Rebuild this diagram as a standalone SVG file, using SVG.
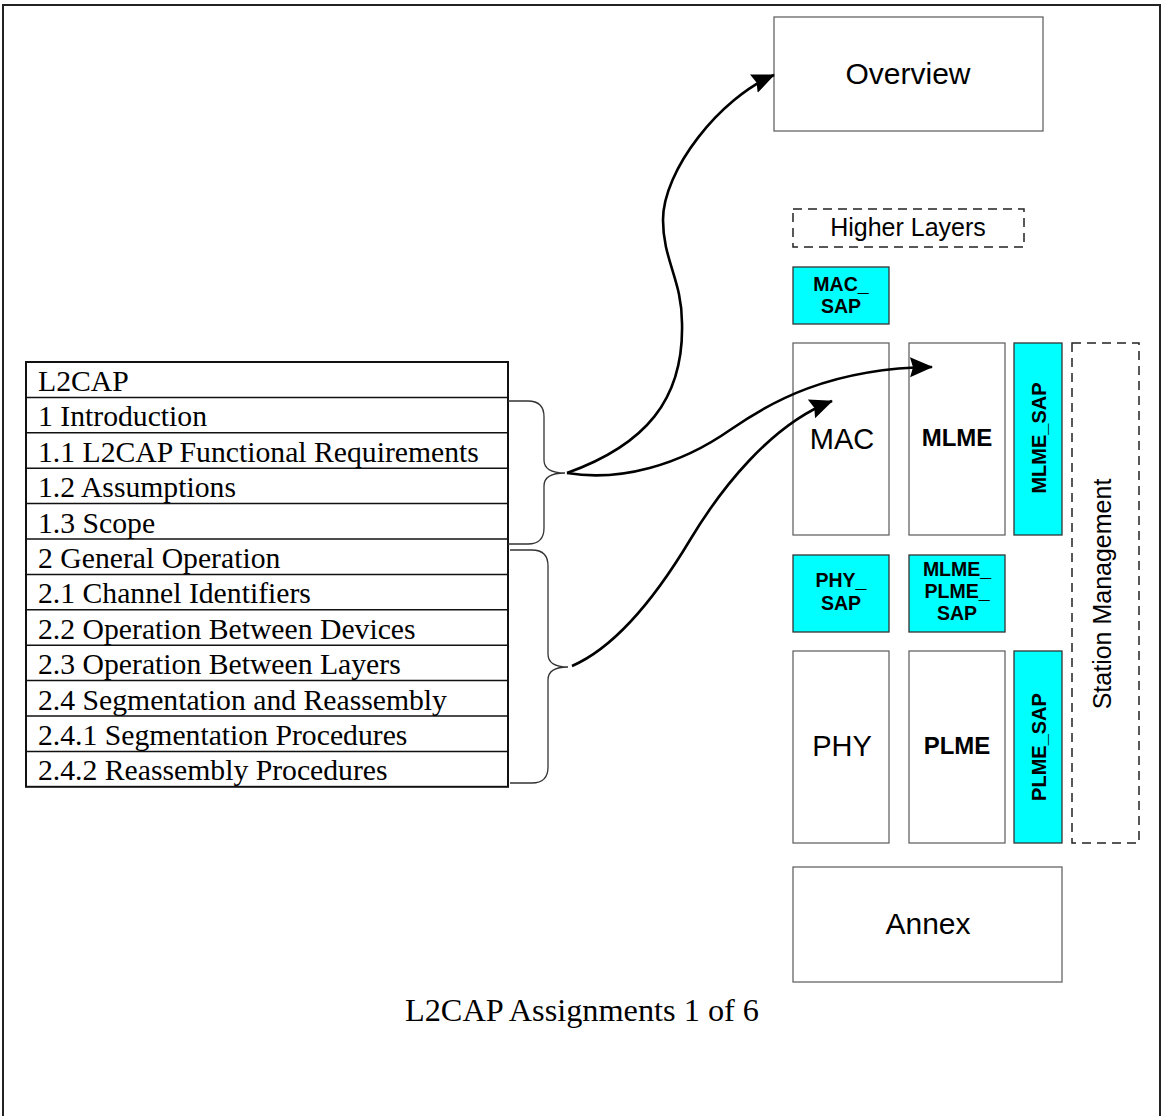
<svg xmlns="http://www.w3.org/2000/svg" width="1165" height="1116" viewBox="0 0 1165 1116">
<defs>
<style>
.box{fill:#fff;stroke:#666;stroke-width:1.3}
.sap{fill:#00ffff;stroke:#333;stroke-width:1.3}
.dash{fill:#fff;stroke:#222;stroke-width:1.5;stroke-dasharray:9,6}
.sans{font-family:"Liberation Sans",Arial,sans-serif;fill:#000}
.b{font-weight:bold}
.serif{font-family:"Liberation Serif","Times New Roman",serif;fill:#000}
.row{font-size:29.7px}
.tl{stroke:#111;stroke-width:1.5}
.conn{fill:none;stroke:#000;stroke-width:2.6}
.brace{fill:none;stroke:#333;stroke-width:1.3}
</style>
<marker id="ah" markerUnits="userSpaceOnUse" markerWidth="26" markerHeight="22" refX="22" refY="10" orient="auto">
<path d="M0,0 L23,10 L0,20 L3,10 z" fill="#000"/>
</marker>
</defs>
<rect width="1165" height="1116" fill="#fff"/>
<path d="M3,1120 L3,5 L1160,5 L1160,1120" fill="none" stroke="#222" stroke-width="2"/>

<g id="overview">
<rect class="box" x="774" y="17" width="269" height="114" stroke="#333"/>
<text class="sans" x="908" y="84" font-size="30" text-anchor="middle">Overview</text>
</g>
<g id="higher-layers">
<rect class="dash" x="793" y="209" width="231" height="38"/>
<text class="sans" x="908" y="236" font-size="25" text-anchor="middle">Higher Layers</text>
</g>
<g id="mac-sap">
<rect class="sap" x="793" y="267" width="96" height="57"/>
<text class="sans b" x="841" y="291" font-size="19.5" text-anchor="middle">MAC_</text>
<text class="sans b" x="841" y="313" font-size="19.5" text-anchor="middle">SAP</text>
</g>
<g id="mac">
<rect class="box" x="793" y="343" width="96" height="192"/>
<text class="sans" x="842" y="449" font-size="29" text-anchor="middle">MAC</text>
</g>
<g id="mlme">
<rect class="box" x="909" y="343" width="96" height="192"/>
<text class="sans b" x="957" y="446" font-size="24" text-anchor="middle">MLME</text>
</g>
<g id="mlme-sap">
<rect class="sap" x="1014" y="343" width="48" height="192"/>
<text class="sans b" transform="translate(1046,438) rotate(-90)" font-size="20" text-anchor="middle">MLME_SAP</text>
</g>
<g id="station-management">
<rect class="dash" x="1072" y="343" width="67" height="500"/>
<text class="sans" transform="translate(1111,594) rotate(-90)" font-size="25" text-anchor="middle">Station Management</text>
</g>
<g id="phy-sap">
<rect class="sap" x="793" y="555" width="96" height="77"/>
<text class="sans b" x="841" y="587" font-size="19.5" text-anchor="middle">PHY_</text>
<text class="sans b" x="841" y="610" font-size="19.5" text-anchor="middle">SAP</text>
</g>
<g id="mlme-plme-sap">
<rect class="sap" x="909" y="555" width="96" height="77"/>
<text class="sans b" x="957" y="576" font-size="19.5" text-anchor="middle">MLME_</text>
<text class="sans b" x="957" y="598" font-size="19.5" text-anchor="middle">PLME_</text>
<text class="sans b" x="957" y="620" font-size="19.5" text-anchor="middle">SAP</text>
</g>
<g id="phy">
<rect class="box" x="793" y="651" width="96" height="192"/>
<text class="sans" x="842" y="756" font-size="29" text-anchor="middle">PHY</text>
</g>
<g id="plme">
<rect class="box" x="909" y="651" width="96" height="192"/>
<text class="sans b" x="957" y="754" font-size="24" text-anchor="middle">PLME</text>
</g>
<g id="plme-sap">
<rect class="sap" x="1014" y="651" width="48" height="192"/>
<text class="sans b" transform="translate(1046,747) rotate(-90)" font-size="20" text-anchor="middle">PLME_SAP</text>
</g>
<g id="annex">
<rect class="box" x="793" y="867" width="269" height="115" stroke="#333"/>
<text class="sans" x="928" y="934" font-size="30" text-anchor="middle">Annex</text>
</g>

<g id="toc">
<rect x="26" y="362" width="482" height="424.8" fill="#fff" stroke="#111" stroke-width="2"/>
<line class="tl" x1="26" y1="397.4" x2="508" y2="397.4"/>
<line class="tl" x1="26" y1="432.8" x2="508" y2="432.8"/>
<line class="tl" x1="26" y1="468.2" x2="508" y2="468.2"/>
<line class="tl" x1="26" y1="503.6" x2="508" y2="503.6"/>
<line class="tl" x1="26" y1="539" x2="508" y2="539"/>
<line class="tl" x1="26" y1="574.4" x2="508" y2="574.4"/>
<line class="tl" x1="26" y1="609.8" x2="508" y2="609.8"/>
<line class="tl" x1="26" y1="645.2" x2="508" y2="645.2" stroke-width="2.6"/>
<line class="tl" x1="26" y1="680.6" x2="508" y2="680.6"/>
<line class="tl" x1="26" y1="716" x2="508" y2="716"/>
<line class="tl" x1="26" y1="751.4" x2="508" y2="751.4"/>
<text class="serif row" x="38" y="391">L2CAP</text>
<text class="serif row" x="38" y="426.4">1 Introduction</text>
<text class="serif row" x="38" y="461.8">1.1 L2CAP Functional Requirements</text>
<text class="serif row" x="38" y="497.2">1.2 Assumptions</text>
<text class="serif row" x="38" y="532.6">1.3 Scope</text>
<text class="serif row" x="38" y="568">2 General Operation</text>
<text class="serif row" x="38" y="603.4">2.1 Channel Identifiers</text>
<text class="serif row" x="38" y="638.8">2.2 Operation Between Devices</text>
<text class="serif row" x="38" y="674.2">2.3 Operation Between Layers</text>
<text class="serif row" x="38" y="709.6">2.4 Segmentation and Reassembly</text>
<text class="serif row" x="38" y="745">2.4.1 Segmentation Procedures</text>
<text class="serif row" x="38" y="780.4">2.4.2 Reassembly Procedures</text>
</g>

<g id="braces">
<path class="brace" d="M508,401 L528,401 Q544,401 544,417 L544,460 Q544,473 565,473 Q544,473 544,486 L544,528 Q544,544 528,544 L508,544"/>
<path class="brace" d="M510,550 L532,550 Q548,550 548,566 L548,654 Q548,667 568,667 Q548,667 548,680 L548,767 Q548,783 532,783 L510,783"/>
</g>

<g id="connectors">
<path class="conn" marker-end="url(#ah)" d="M567,473 C645,445 684,400 682,323 C682,280 663,260 663,220 C663,170 720,98 774,75"/>
<path class="conn" marker-end="url(#ah)" d="M567,473 C620,482 680,465 730,430 C770,402 830,368 932,367"/>
<path class="conn" marker-end="url(#ah)" d="M572,666 C620,645 660,590 690,540 C720,490 770,425 832,401"/>
</g>

<text id="caption" class="serif" x="582" y="1021" font-size="31" text-anchor="middle" textLength="354" lengthAdjust="spacingAndGlyphs">L2CAP Assignments 1 of 6</text>
</svg>
